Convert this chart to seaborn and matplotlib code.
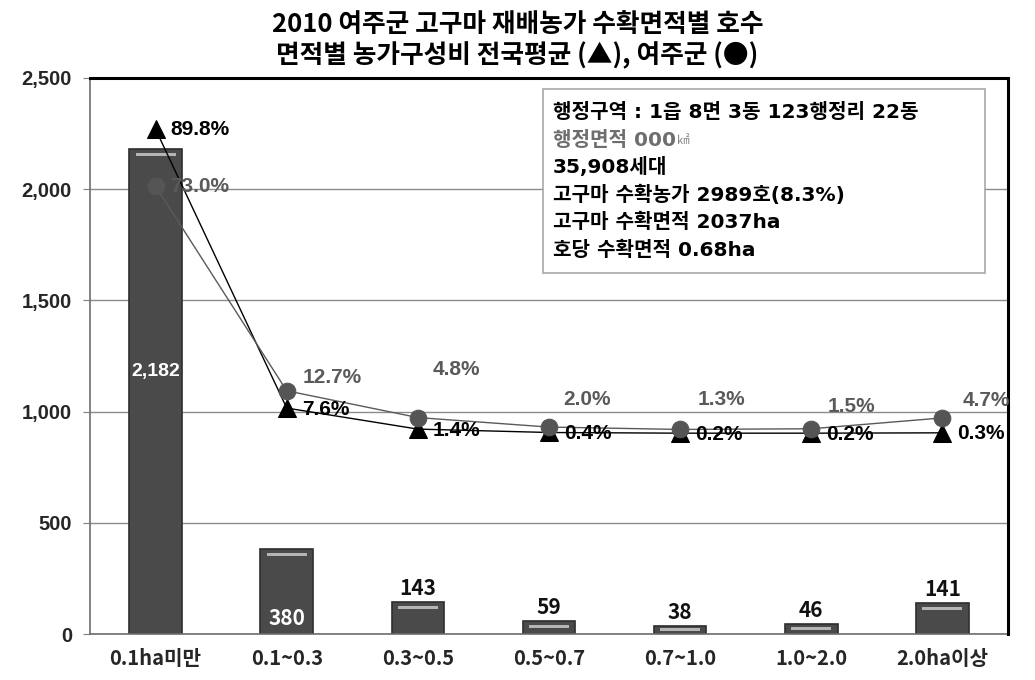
import matplotlib
matplotlib.use("Agg")
import matplotlib.pyplot as plt
import seaborn as sns
import pandas as pd
from matplotlib.patches import Rectangle
from matplotlib.text import Annotation

# ---------------- data ----------------
categories = ["0.1ha미만", "0.1~0.3", "0.3~0.5", "0.5~0.7", "0.7~1.0", "1.0~2.0", "2.0ha이상"]
households = [2182, 380, 143, 59, 38, 46, 141]
national_pct = [89.8, 7.6, 1.4, 0.4, 0.2, 0.2, 0.3]   # 전국평균 (▲)
yeoju_pct = [73.0, 12.7, 4.8, 2.0, 1.3, 1.5, 4.7]     # 여주군 (●)
yticks = [0, 500, 1000, 1500, 2000, 2500]
title_lines = ["2010 여주군 고구마 재배농가 수확면적별 호수", "면적별 농가구성비 전국평균 (▲), 여주군 (●)"]
info_lines = ["행정구역 : 1읍 8면 3동 123행정리 22동", "행정면적 000", "35,908세대",
              "고구마 수확농가 2989호(8.3%)", "고구마 수확면적 2037ha", "호당 수확면적 0.68ha"]

# ---------------- layout / style ----------------
KR = ["Noto Sans CJK KR", "DejaVu Sans"]
LAT = ["Liberation Sans", "Noto Sans CJK KR", "DejaVu Sans"]
WIDE = ["DejaVu Sans", "Noto Sans CJK KR"]
sns.set_style("white")
plt.rcParams["font.family"] = KR

df = pd.DataFrame({"cat": categories, "n": households,
                   "nat": national_pct, "yj": yeoju_pct})

fig = plt.figure(figsize=(10.35, 6.8), dpi=100)
ax = fig.add_axes([90 / 1035, 1 - 634 / 680, (1008 - 90) / 1035, (634 - 78) / 680])

ax.set_ylim(0, 2500)
ax.set_yticks(yticks)
ax.yaxis.grid(True, color="#8c8c8c", linewidth=1)
ax.set_axisbelow(True)

sns.barplot(data=df, x="cat", y="n", order=categories, color="#4a4a4a",
            saturation=1, width=0.4, edgecolor="#2e2e2e", linewidth=1.2, ax=ax, zorder=2)
ax.set_xlim(-0.5, 6.5)

# bevel highlight on each bar
unit = 2500 / 556.0  # data units per pixel
for p in ax.patches:
    h = p.get_height()
    cx = p.get_x()
    w = p.get_width()
    c = h - min(5.5 * unit, h * 0.45)
    ax.add_patch(Rectangle((cx + w * 0.12, c - 1.5 * unit), w * 0.76, 3 * unit,
                           facecolor="#b5b5b5", edgecolor="none", zorder=3))

# bar value labels
inside_pos = {0: 1180, 1: 70}
for i, v in enumerate(households):
    if i in inside_pos:
        fam = LAT if i == 0 else KR
        ax.text(i, inside_pos[i], f"{v:,}", ha="center", va="center", color="white",
                fontsize=14 if i == 0 else 15, fontweight="bold", family=fam, zorder=5)
    else:
        ax.annotate(f"{v:,}", (i, v), xytext=(0, 3), textcoords="offset pixels",
                    ha="center", va="bottom", fontsize=15, fontweight="bold",
                    color="#111111", zorder=5)

ax.set_xlabel("")
ax.set_ylabel("")
ax.set_yticklabels([f"{t:,}" for t in yticks], family=LAT, fontsize=14.5, fontweight="bold")
ax.tick_params(axis="y", length=5, color="#808080", direction="out", pad=8)
ax.set_xticks(range(len(categories)))
ax.set_xticklabels(categories, fontsize=14.5, fontweight="bold")
ax.tick_params(axis="x", length=0, pad=10)
ax.set_xticks([i - 0.5 for i in range(len(categories) + 1)], minor=True)
ax.tick_params(axis="x", which="minor", length=6, color="#808080", direction="out")

for s in ["left", "bottom"]:
    ax.spines[s].set_color("#6e6e6e")
    ax.spines[s].set_linewidth(1.2)
for s in ["top", "right"]:
    ax.spines[s].set_color("black")
    ax.spines[s].set_linewidth(2.2)
    ax.spines[s].set_zorder(6)

# secondary (hidden) axis for percentages
ax2 = ax.twinx()
ax2.set_ylim(-59.0, 104.9)
sns.lineplot(data=df, x="cat", y="nat", sort=False, color="black", linewidth=1,
             marker="^", markersize=13, markeredgecolor="black", markerfacecolor="black",
             ax=ax2, zorder=4)
sns.lineplot(data=df, x="cat", y="yj", sort=False, color="#5a5a5a", linewidth=1,
             marker="o", markersize=12, markeredgecolor="#555555", markerfacecolor="#555555",
             ax=ax2, zorder=5)
ax2.set_xlim(-0.5, 6.5)
ax2.set_yticks([])
ax2.set_ylabel("")
ax2.set_xlabel("")
for s in ax2.spines.values():
    s.set_visible(False)

for i, v in enumerate(national_pct):
    ax2.annotate(f"{v}%", (i, v), xytext=(15, -1 if i else 0), textcoords="offset pixels",
                 ha="left", va="center", fontsize=15, fontweight="bold", family=LAT,
                 color="black", zorder=7)

yj_offsets = [(15, 0), (45, 13), (39, 48), (38, 28), (41, 30), (40, 22), (44, 17)]
for i, v in enumerate(yeoju_pct):
    dx, dy = yj_offsets[i]
    ax2.annotate(f"{v}%", (i, v), xytext=(dx, dy), textcoords="offset pixels",
                 ha="left" if i == 0 else "center", va="center", fontsize=15,
                 fontweight="bold", family=LAT, color="#5a5a5a", zorder=7)

# titles
fig.text(0.5, 1 - 24 / 680, title_lines[0], ha="center", va="center",
         fontsize=18.5, fontweight="bold", color="black")
fig.text(0.5, 1 - 56 / 680, title_lines[1], ha="center", va="center",
         fontsize=18.5, fontweight="bold", color="black")

# info box
box = Rectangle((543 / 1035, 1 - 273 / 680), (985 - 543) / 1035, (273 - 89) / 680,
                transform=fig.transFigure, facecolor="white", edgecolor="#a8a8a8",
                linewidth=1.2, zorder=8)
fig.add_artist(box)
line_y = [112, 140, 167, 195, 222, 250]
for k, (txt, yy) in enumerate(zip(info_lines, line_y)):
    col = "#6e6e6e" if k == 1 else "black"
    t = fig.text(553 / 1035, 1 - yy / 680, txt, ha="left", va="center", fontsize=14.5,
                 fontweight="bold", family=WIDE, color=col, zorder=9)
    if k == 1:
        an = Annotation("㎢", xy=(1, 0.15), xycoords=t, xytext=(1, 0),
                        textcoords="offset pixels", ha="left", va="bottom",
                        fontsize=9, color="#8a8a8a", family=KR,
                        annotation_clip=False)
        an.set_zorder(10)
        fig.add_artist(an)

fig.savefig("out.png", dpi=100)
